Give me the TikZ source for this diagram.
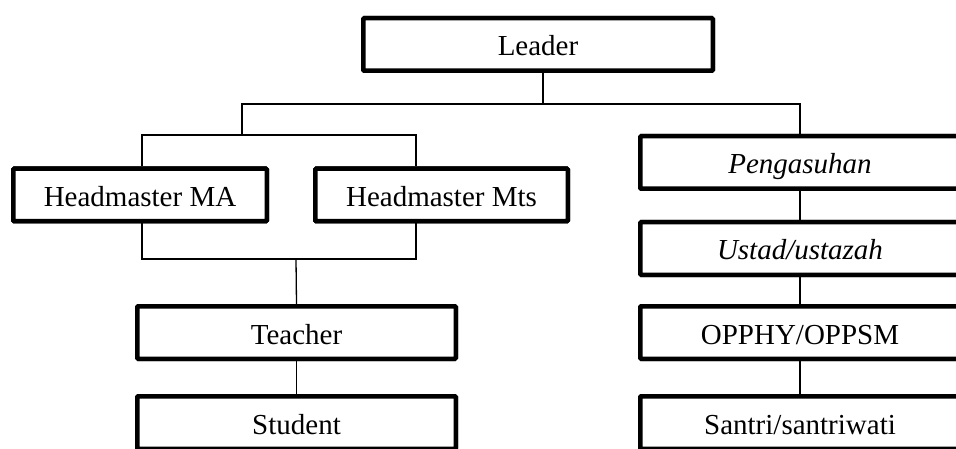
\documentclass[tikz,border=0pt]{standalone}
\usepackage{fontspec}
\setmainfont{Liberation Serif}
\begin{document}
\begin{tikzpicture}[x=1pt,y=-1pt,
  orgbox/.style={draw=black, line width=4.5pt, rounded corners=1pt, fill=white,
    minimum height=52.5pt, inner sep=0pt, font=\fontsize{29}{32}\selectfont,
    text height=26pt, text depth=3pt},
  wbox/.style={orgbox, minimum width=319.5pt},
  link/.style={draw=black, line width=1.3pt}]
\path[use as bounding box, clip] (0,0) rectangle (956,449);
\fill[white] (0,0) rectangle (956,449);
% nodes
\node[orgbox, minimum width=349.5pt] (leader) at (538,44.5) {Leader};
\node[orgbox, minimum width=253.5pt] (hma) at (140,195) {Headmaster MA};
\node[orgbox, minimum width=252.5pt] (hmts) at (441.5,195) {Headmaster Mts};
\node[wbox, minimum width=318.5pt] (teacher) at (296.5,332.5) {Teacher};
\node[wbox, minimum width=318.5pt] (student) at (296.5,422.5) {Student};
\node[wbox] (peng) at (800,162.5) {\itshape Pengasuhan};
\node[wbox] (ustad) at (800,248.5) {\itshape Ustad/ustazah};
\node[wbox] (opphy) at (800,332.5) {OPPHY/OPPSM};
\node[wbox] (santri) at (800,422.5) {Santri/santriwati};
% junction coordinates
\coordinate (top) at (543,104);
\coordinate (fork) at (242,135);
\coordinate (join) at (296,259);
% connectors
\draw[link] (leader.south -| top) -- (top);
\draw[link] (fork) -- (fork |- top) -- (peng.north |- top) -- (peng.north);
\draw[link] (hma.north -| 142,0) -- (142,135) -- (416,135) -- (hmts.north -| 416,0);
\draw[link] (hma.south -| 142,0) -- (142,259) -- (416,259) -- (hmts.south -| 416,0);
\draw[link] (join) -- (teacher.north);
\draw[link] (teacher) -- (student);
\draw[link] (peng) -- (ustad);
\draw[link] (ustad) -- (opphy);
\draw[link] (opphy) -- (santri);
% redraw boxes on top of the links
\node[orgbox, minimum width=349.5pt] at (leader) {Leader};
\node[orgbox, minimum width=253.5pt] at (hma) {Headmaster MA};
\node[orgbox, minimum width=252.5pt] at (hmts) {Headmaster Mts};
\node[wbox, minimum width=318.5pt] at (teacher) {Teacher};
\node[wbox, minimum width=318.5pt] at (student) {Student};
\node[wbox] at (peng) {\itshape Pengasuhan};
\node[wbox] at (ustad) {\itshape Ustad/ustazah};
\node[wbox] at (opphy) {OPPHY/OPPSM};
\node[wbox] at (santri) {Santri/santriwati};
\end{tikzpicture}
\end{document}
